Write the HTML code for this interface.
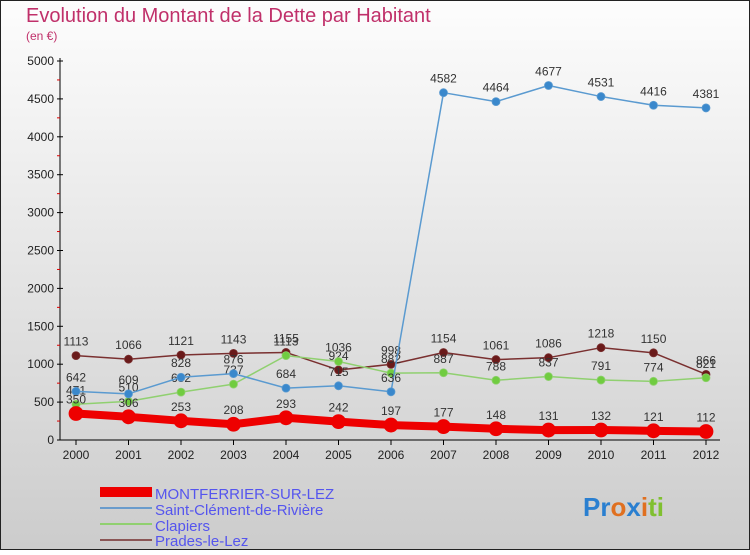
<!DOCTYPE html>
<html><head><meta charset="utf-8"><style>
body{margin:0;}
svg text{font-family:"Liberation Sans",sans-serif;}
</style></head><body>
<svg id="c" width="750" height="550" xmlns="http://www.w3.org/2000/svg">
<defs><linearGradient id="bg" x1="0" y1="0" x2="0" y2="1"><stop offset="0" stop-color="#fdfdfd"/><stop offset="1" stop-color="#cccccc"/></linearGradient></defs>
<rect x="0.5" y="0.5" width="749" height="549" fill="url(#bg)" stroke="#222"/>
<text x="26" y="22" font-size="20" fill="#c0306a">Evolution du Montant de la Dette par Habitant</text>
<text x="26" y="40" font-size="12" fill="#c0306a">(en €)</text>
<g id="axes"></g><g id="series"></g>
<g>
<rect x="100" y="487" width="52" height="10" fill="#e00"/>
<text x="155" y="499" font-size="15" fill="#5555ee">MONTFERRIER-SUR-LEZ</text>
<line x1="100" y1="508" x2="152" y2="508" stroke="#6a9ccc" stroke-width="2"/>
<text x="155" y="515" font-size="15" fill="#5555ee">Saint-Clément-de-Rivière</text>
<line x1="100" y1="524" x2="152" y2="524" stroke="#90d070" stroke-width="2"/>
<text x="155" y="531" font-size="15" fill="#5555ee">Clapiers</text>
<line x1="100" y1="540" x2="152" y2="540" stroke="#8a5555" stroke-width="2"/>
<text x="155" y="546" font-size="15" fill="#5555ee">Prades-le-Lez</text>
</g>
<text x="583" y="516" font-size="26" font-weight="bold"><tspan fill="#2a7fd0">Pr</tspan><tspan fill="#e07020">o</tspan><tspan fill="#2a7fd0">x</tspan><tspan fill="#e07020">i</tspan><tspan fill="#80c030">ti</tspan></text>
</svg>
<script>
const years=[2000,2001,2002,2003,2004,2005,2006,2007,2008,2009,2010,2011,2012];
const yTicks=[0,500,1000,1500,2000,2500,3000,3500,4000,4500,5000];
const montferrier=[350,306,253,208,293,242,197,177,148,131,132,121,112];
const saintClement=[642,609,828,876,684,715,636,4582,4464,4677,4531,4416,4381];
const clapiers=[471,510,632,737,1113,1036,882,887,788,837,791,774,821];
const prades=[1113,1066,1121,1143,1155,924,998,1154,1061,1086,1218,1150,866];
const NS="http://www.w3.org/2000/svg";
const X=i=>76+i*(706-76)/(years.length-1);
const Y=v=>440-v*(440-61)/5000;
function mk(p,t,a){const e=document.createElementNS(NS,t);for(const k in a)e.setAttribute(k,a[k]);p.appendChild(e);return e;}
const ax=document.getElementById('axes');
mk(ax,'line',{x1:60,y1:58,x2:60,y2:440,stroke:'#000'});
mk(ax,'line',{x1:60,y1:440,x2:720,y2:440,stroke:'#000'});
yTicks.forEach(v=>{
 mk(ax,'line',{x1:57,y1:Y(v),x2:63,y2:Y(v),stroke:'#000'});
 const t=mk(ax,'text',{x:54,y:Y(v)+4,'font-size':12,'text-anchor':'end',fill:'#222'});
 t.textContent=v;
 
 
 if(v<5000)mk(ax,'line',{x1:57,y1:Y(v+250),x2:60,y2:Y(v+250),stroke:'#d00'});
});
years.forEach((y,i)=>{
 mk(ax,'line',{x1:X(i),y1:440,x2:X(i),y2:445,stroke:'#000'});
 const t=mk(ax,'text',{x:X(i),y:459,'font-size':12,'text-anchor':'middle',fill:'#222'});
 t.textContent=y;
 
 
});
const sg=document.getElementById('series');
function draw(data,name,col,fill,w,r){
 const g=mk(sg,'g',{});
 
 
 mk(g,'polyline',{points:data.map((v,i)=>X(i)+','+Y(v)).join(' '),fill:'none',stroke:col,'stroke-width':w,'stroke-linejoin':'round'});
 data.forEach((v,i)=>{
  const c=mk(g,'circle',{cx:X(i),cy:Y(v),r:r,fill:fill,stroke:col,'stroke-width':0.8});
  
  
  const t=mk(g,'text',{x:X(i),y:Y(v)-10,'font-size':12,'text-anchor':'middle',fill:'#333'});
  t.textContent=v;
  
  
 });
}
draw(prades,'prades-series','#7a3030','#6a1a1a',1.5,4);
draw(clapiers,'clapiers-series','#90d070','#70cc40',1.5,4);
draw(saintClement,'saint-clement-series','#5a9ad0','#3a88cc',1.5,4);
draw(montferrier,'montferrier-series','#ee0000','#ee0000',8,7);
</script>
</body></html>
